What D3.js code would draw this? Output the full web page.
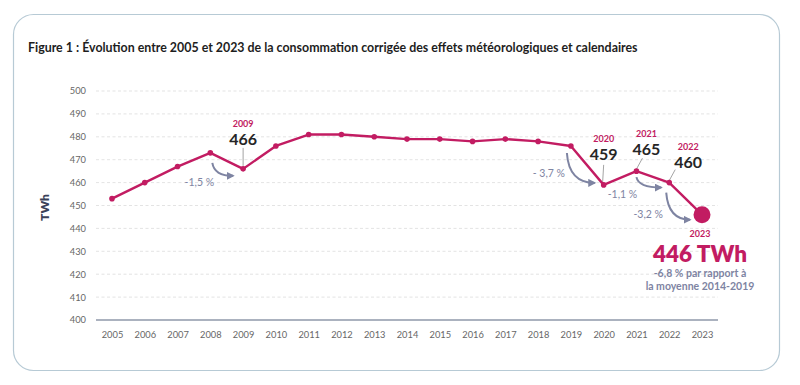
<!DOCTYPE html>
<html><head><meta charset="utf-8">
<script src="https://cdn.jsdelivr.net/npm/d3@7"></script>
<style>
html,body{margin:0;padding:0;background:#fff;}
svg{display:block;font-family:Lato,"Open Sans",sans-serif;}
</style></head>
<body><svg id="c" width="800" height="385"></svg>
<script>
const title = "Figure 1 : Évolution entre 2005 et 2023 de la consommation corrigée des effets météorologiques et calendaires";
const years = [2005,2006,2007,2008,2009,2010,2011,2012,2013,2014,2015,2016,2017,2018,2019,2020,2021,2022,2023];
const values = [453,460,467,473,466,476,481,481,480,479,479,478,479,478,476,459,465,460,446];
const yTicks = [400,410,420,430,440,450,460,470,480,490,500];
const yLabel = "TWh";
const labelYears = [2009,2020,2021,2022];
const changes = [
  {from:2008, to:2009, text:"-1,5 %"},
  {from:2019, to:2020, text:"- 3,7 %"},
  {from:2021, to:2022, text:"-1,1 %"},
  {from:2022, to:2023, text:"-3,2 %"}
];
const finalNote = ["446 TWh", "-6,8 % par rapport à", "la moyenne 2014-2019"];

const svg = d3.select("#c");
const MAG = "#c21c62", ARROW = "#7e84a2", DARK = "#262626";
const val = y => values[years.indexOf(y)];

// card
svg.append("rect").attr("x",13.5).attr("y",14.5).attr("width",766).attr("height",356)
  .attr("rx",20).attr("fill","#fff").attr("stroke","#b7cad5").attr("stroke-width",1.2);

svg.append("text").attr("x",28).attr("y",52).text(title)
  .attr("font-size",12.4).attr("font-weight",700).attr("fill","#1e1e1e");

const x = d3.scaleLinear().domain([2005,2023]).range([112,702]);
const y = d3.scaleLinear().domain([400,500]).range([320,91]);

// grid
svg.append("g").selectAll("line").data(yTicks.filter(t=>t>400)).join("line")
  .attr("x1",96).attr("x2",718).attr("y1",d=>y(d)).attr("y2",d=>y(d))
  .attr("stroke","#dcdcdc").attr("stroke-width",0.8).attr("stroke-dasharray","3,2.5");

// y axis labels
const ya = svg.append("g").attr("transform","translate(86,0)")
  .call(d3.axisLeft(y).tickValues(yTicks).tickSize(0).tickPadding(0));
ya.select(".domain").remove();
ya.selectAll("text").attr("font-family","Lato,sans-serif").attr("font-size",9.3).attr("fill","#666");

// x axis
svg.append("line").attr("x1",96).attr("x2",718).attr("y1",y(400)).attr("y2",y(400))
  .attr("stroke","#8f98aa").attr("stroke-width",1.4);
const xa = svg.append("g").attr("transform",`translate(0,${y(400)+11})`)
  .call(d3.axisBottom(x).tickValues(years).tickFormat(d3.format("d")).tickSize(0).tickPadding(0));
xa.select(".domain").remove();
xa.selectAll("text").attr("font-family","Lato,sans-serif").attr("font-size",9.3).attr("fill","#666");

svg.append("text").attr("transform",`translate(49,${(y(400)+y(500))/2+2}) rotate(-90)`)
  .attr("text-anchor","middle").attr("font-size",12).attr("font-weight",800).attr("fill","#3a4259").text(yLabel);

// leader lines and labels
const labelOff = {2009:{lx1:0,ly1:-21,lx2:0,ly2:-3, tx:0, ty:-24}, 2020:{lx1:0,ly1:-20,lx2:-1,ly2:-3,tx:0,ty:-25},
  2021:{lx1:6,ly1:-13,lx2:0,ly2:-2,tx:10,ty:-16}, 2022:{lx1:6,ly1:-13,lx2:0,ly2:-2,tx:19,ty:-15}};
labelYears.forEach(yr=>{
  const o = labelOff[yr], px = x(yr), py = y(val(yr));
  svg.append("line").attr("x1",px+o.lx1).attr("y1",py+o.ly1).attr("x2",px+o.lx2).attr("y2",py+o.ly2)
    .attr("stroke","#8d8d8d").attr("stroke-width",0.8);
  svg.append("text").attr("x",px+o.tx).attr("y",py+o.ty).attr("text-anchor","middle")
    .attr("font-size",16).attr("font-weight",700).attr("fill",DARK).text(val(yr));
  svg.append("text").attr("x",px+o.tx).attr("y",py+o.ty-18).attr("text-anchor","middle")
    .attr("font-size",9).attr("font-weight",700).attr("fill",MAG).text(yr);
});

// arrows
const defs = svg.append("defs");
defs.append("marker").attr("id","ah").attr("viewBox","0 0 10 10").attr("refX",8).attr("refY",5)
  .attr("markerWidth",4).attr("markerHeight",4).attr("orient","auto")
  .append("path").attr("d","M0,0L10,5L0,10z").attr("fill",ARROW);
const arrOff = [
  {sx:2,sy:10,ex:-10,ey:7, lx:-11,ly:33},
  {sx:-4,sy:7,ex:-9,ey:-2, lx:-22,ly:31},
  {sx:0,sy:6,ex:-8,ey:5, lx:-14,ly:27},
  {sx:-3,sy:10,ex:-12,ey:5, lx:-21,ly:35}
];
changes.forEach((c,i)=>{
  const o = arrOff[i];
  const sx = x(c.from)+o.sx, sy = y(val(c.from))+o.sy;
  const ex = x(c.to)+o.ex, ey = y(val(c.to))+o.ey;
  svg.append("path").attr("d",`M${sx},${sy}Q${sx+2},${ey} ${ex},${ey}`)
    .attr("fill","none").attr("stroke",ARROW).attr("stroke-width",2).attr("marker-end","url(#ah)");
  svg.append("text").attr("x",x(c.from)+o.lx).attr("y",y(val(c.from))+o.ly).attr("text-anchor","middle")
    .attr("font-size",10.5).attr("fill",ARROW).text(c.text);
});

// line
svg.append("path").datum(years.map((yr,i)=>[yr,values[i]]))
  .attr("d",d3.line().x(d=>x(d[0])).y(d=>y(d[1])))
  .attr("fill","none").attr("stroke",MAG).attr("stroke-width",2.4).attr("stroke-linejoin","round");
svg.append("g").selectAll("circle").data(years.slice(0,-1)).join("circle")
  .attr("cx",d=>x(d)).attr("cy",d=>y(val(d))).attr("r",2.8).attr("fill",MAG);
const ly = years[years.length-1];
svg.append("circle").attr("cx",x(ly)).attr("cy",y(val(ly))).attr("r",8.5).attr("fill",MAG);

// final note
const fx = x(ly)-2, fy = y(val(ly));
svg.append("text").attr("x",fx).attr("y",fy+22).attr("text-anchor","middle").attr("font-size",9)
  .attr("font-weight",700).attr("fill",MAG).text(ly);
svg.append("text").attr("x",fx).attr("y",fy+47).attr("text-anchor","middle").attr("font-size",22.5)
  .attr("font-weight",800).attr("fill",MAG).text(finalNote[0]);
svg.append("text").attr("x",fx).attr("y",fy+62.5).attr("text-anchor","middle").attr("font-size",10.5)
  .attr("font-weight",700).attr("fill",ARROW).text(finalNote[1]);
svg.append("text").attr("x",fx).attr("y",fy+75.5).attr("text-anchor","middle").attr("font-size",10.5)
  .attr("font-weight",700).attr("fill",ARROW).text(finalNote[2]);
</script></body></html>
